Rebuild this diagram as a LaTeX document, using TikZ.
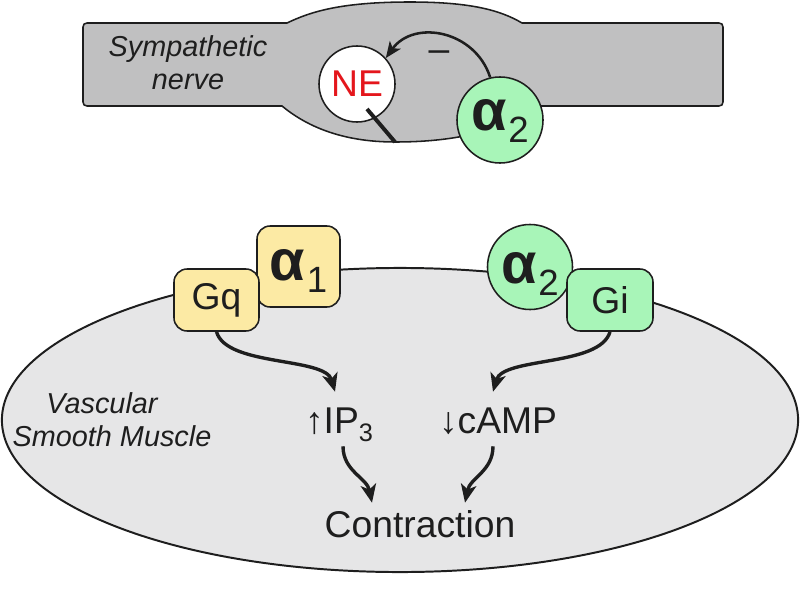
\documentclass[tikz,border=0pt]{standalone}
\usepackage{fontspec}
\setmainfont{Liberation Sans}
\usetikzlibrary{arrows.meta}
\definecolor{nervegray}{RGB}{192,192,193}
\definecolor{cellgray}{RGB}{230,230,231}
\definecolor{recyellow}{RGB}{252,234,164}
\definecolor{recgreen}{RGB}{168,245,184}
\definecolor{nered}{RGB}{228,22,28}
\definecolor{ink}{RGB}{30,30,30}
\newcommand\bigfont{\fontsize{26.5}{30}\selectfont}
\newcommand\itfont{\fontsize{20.5}{24}\selectfont\itshape}
\newcommand\alfont{\fontsize{41}{44}\selectfont\bfseries}
\newcommand\subfont{\fontsize{26}{28}\selectfont}
\newcommand\alphasub[1]{{\alfont α}\kern0.04cm\raisebox{-0.3cm}{\subfont #1}}
\begin{document}
\begin{tikzpicture}[x=0.025cm, y=-0.025cm,
  outline/.style={draw=ink, line width=1.1pt},
  recbox/.style={outline, rounded corners=0.33cm, inner sep=0pt, text=ink},
  reccirc/.style={outline, circle, inner sep=0pt, text=ink},
  flow/.style={draw=ink, line width=2.4pt, -{Stealth[length=13pt, width=11pt, inset=3.5pt]}},
  inh/.style={draw=ink, line width=1.8pt, -{Stealth[length=11.5pt, width=9.5pt, inset=3pt]}},
  lbl/.style={inner sep=0pt, text=ink, font=\bigfont},
  itlbl/.style={inner sep=0pt, text=ink, font=\itfont, anchor=base}
]
\useasboundingbox (0,0) rectangle (800,610);

% ---------- sympathetic nerve ----------
\draw[outline, fill=nervegray]
  (83,27) .. controls (83,24.5) and (84.5,23) .. (87,23)
  -- (287,23) .. controls (310,12) and (340,2) .. (410,2)
  .. controls (470,2) and (500,10) .. (522,23)
  -- (719,23) .. controls (721.5,23) and (723,24.5) .. (723,27)
  -- (723,102) .. controls (723,104.5) and (721.5,106) .. (719,106)
  -- (540,106) .. controls (510,125) and (470,142) .. (395,142)
  .. controls (340,142) and (305,125) .. (282,106)
  -- (87,106) .. controls (84.5,106) and (83,104.5) .. (83,102) -- cycle;

\node[itlbl] (symp) at (188,57) {Sympathetic};
\node[itlbl] (nerve) at (188,90) {nerve};

\node[outline, circle, fill=white, minimum size=1.9cm, inner sep=0pt,
      text=nered, font=\bigfont] (ne) at (357,84) {NE};
\coordinate (nein) at (367,109);
\coordinate (nebase) at (395,142);
\draw[ink, line width=2.8pt] (nein) -- (nebase);

\node[reccirc, fill=recgreen, minimum size=2.15cm,
      text height=0.8cm, text depth=0.3cm] (a2n) at (500,120) {\alphasub{2}};

\draw[inh] (a2n.103) .. controls +(-15,-47) and +(28,-39) .. (ne.42);
\node[lbl, anchor=base] (minus) at (439,62) {–};

% ---------- vascular smooth muscle ----------
\draw[outline, line width=1.4pt, fill=cellgray] (400,420) ellipse [x radius=9.95cm, y radius=3.8cm];

\node[itlbl] (vasc) at (102,413) {Vascular};
\node[itlbl] (smooth) at (112,446) {Smooth Muscle};

\node[recbox, fill=recyellow, minimum width=2.075cm, minimum height=2.025cm,
      text height=0.9cm, text depth=0.22cm] (a1) at (298.5,266.5) {\alphasub{1}};
\node[recbox, fill=recyellow, minimum width=2.125cm, minimum height=1.55cm,
      font=\bigfont] (gq) at (216.5,300) {Gq};

\node[reccirc, fill=recgreen, minimum size=2.125cm,
      text height=1.0cm, text depth=0.2cm] (a2) at (530,267) {\alphasub{2}};
\node[recbox, fill=recgreen, minimum width=2.15cm, minimum height=1.55cm,
      font=\bigfont] (gi) at (610,300) {Gi};

\node[lbl, anchor=base, text height=1.025cm, text depth=0.325cm] (ip) at (339,433)
  {↑IP\raisebox{-0.22cm}{\fontsize{18}{20}\selectfont 3}};
\node[lbl, anchor=base, text height=1.025cm, text depth=0.325cm] (camp) at (498,433)
  {↓cAMP};
\node[lbl, anchor=base, text height=0.85cm] (con) at (420,537) {Contraction};

\draw[flow] (gq.south) .. controls +(10,35) and +(-10,-35) .. ([xshift=-0.1cm]ip.north);
\draw[flow] (gi.south) .. controls +(-10,35) and +(10,-35) .. ([xshift=-0.125cm]camp.north);
\draw[flow] ([xshift=0.1cm]ip.south) .. controls +(0,25) and +(-5,-25) .. ([xshift=-1.2cm]con.north);
\draw[flow] ([xshift=-0.125cm]camp.south) .. controls +(0,25) and +(5,-25) .. ([xshift=1.125cm]con.north);
\end{tikzpicture}
\end{document}
